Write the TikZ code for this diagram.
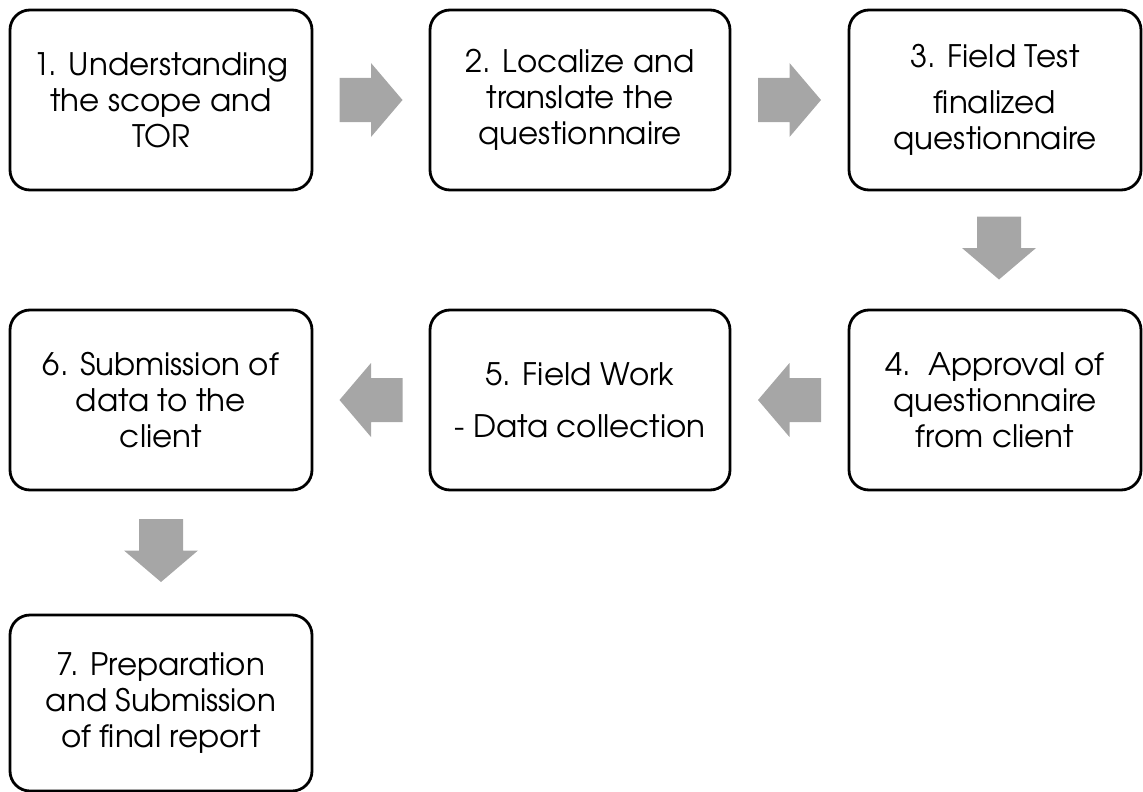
\documentclass[tikz,border=0pt]{standalone}
\usepackage{fontspec}
\setmainfont{TeX Gyre Adventor}
\usetikzlibrary{calc}
\definecolor{arrowgray}{HTML}{A6A6A6}
\newcommand\garrow[2]{%
  \fill[arrowgray, shift={(#1)}, rotate=#2]
    (-31.5,-22) -- (0,-22) -- (0,-37) -- (31.5,0) -- (0,37) -- (0,22) -- (-31.5,22) -- cycle;}
\begin{document}
\begin{tikzpicture}[x=1pt,y=-1pt,
  stepbox/.style={draw=black, line width=2.8pt, rounded corners=20pt, fill=white,
    align=center, inner sep=0pt, minimum height=180pt,
    font=\fontsize{31}{36}\selectfont}]
\useasboundingbox (0,0) rectangle (1143,792);
\node[stepbox, minimum width=302pt] (b1) at (161,100) {1. Understanding\\the scope and\\TOR};
\node[stepbox, minimum width=300pt] (b2) at (580,100) {2. Localize and\\translate the\\questionnaire};
\node[stepbox, minimum width=292pt] (b3) at (995,100) {3. Field Test\\[10pt]finalized\\questionnaire};
\node[stepbox, minimum width=292pt] (b4) at (995,400) {4.\ \ Approval of\\questionnaire\\from client};
\node[stepbox, minimum width=300pt] (b5) at (580,400) {5. Field Work\\[16pt]- Data collection};
\node[stepbox, minimum width=302pt] (b6) at (161,400) {6. Submission of\\data to the\\client};
\node[stepbox, minimum width=302pt, minimum height=176pt] (b7) at (161,703) {7. Preparation\\and Submission\\of final report};
\coordinate (a12) at ($(b1.east)!0.5!(b2.west)$);
\coordinate (a23) at ($(b2.east)!0.5!(b3.west)$);
\coordinate (a34) at ($(b3.south)!0.5!(b4.north)+(4,-2)$);
\coordinate (a45) at ($(b4.west)!0.5!(b5.east)$);
\coordinate (a56) at ($(b5.west)!0.5!(b6.east)$);
\coordinate (a67) at ($(b6.south)!0.5!(b7.north)+(0,-2)$);
\garrow{a12}{0}
\garrow{a23}{0}
\garrow{a34}{-90}
\garrow{a45}{180}
\garrow{a56}{180}
\garrow{a67}{-90}
\end{tikzpicture}
\end{document}
